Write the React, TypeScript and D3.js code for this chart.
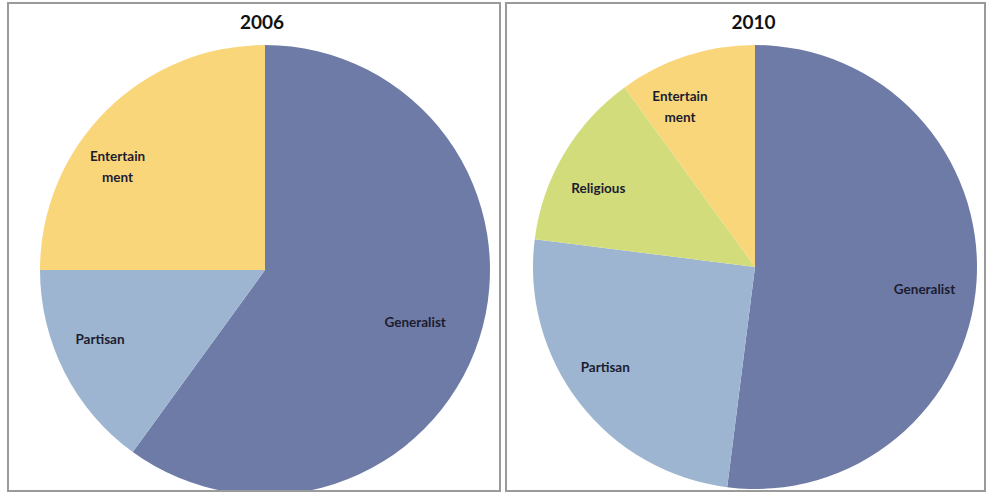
import React from "react";
import * as d3 from "d3";

const categories2006 = ["Generalist", "Partisan", "Entertainment"];
const values2006 = [60, 15, 25];
const categories2010 = ["Generalist", "Partisan", "Religious", "Entertainment"];
const values2010 = [52, 25, 13, 10];
const titles = ["2006", "2010"];

const colors: Record<string, string> = {
  Generalist: "#6E7BA6",
  Partisan: "#9DB5D0",
  Entertainment: "#FAD67B",
  Religious: "#D3DC7B",
};

// label lines per category
const labelLines: Record<string, string[]> = {
  Generalist: ["Generalist"],
  Partisan: ["Partisan"],
  Entertainment: ["Entertain", "ment"],
  Religious: ["Religious"],
};

// label placement (angle in degrees clockwise from top, radius fraction) — Excel best-fit style
const labelPlacement2006: Record<string, [number, number]> = {
  Generalist: [109, 0.706],
  Partisan: [247.3, 0.795],
  Entertainment: [305, 0.8],
};
const labelPlacement2010: Record<string, [number, number]> = {
  Generalist: [97.4, 0.77],
  Partisan: [236.4, 0.81],
  Religious: [296.7, 0.79],
  Entertainment: [335, 0.8],
};

const W = 989;
const H = 493;

type PanelProps = {
  x0: number;
  x1: number;
  cx: number;
  cy: number;
  r: number;
  title: string;
  cats: string[];
  vals: number[];
  placement: Record<string, [number, number]>;
  clipId: string;
};

function Panel({ x0, x1, cx, cy, r, title, cats, vals, placement, clipId }: PanelProps) {
  const data = cats.map((c, i) => ({ c, v: vals[i] }));
  const pie = d3.pie<{ c: string; v: number }>().value((d) => d.v).sort(null);
  const arcs = pie(data);
  const arc = d3.arc<d3.PieArcDatum<{ c: string; v: number }>>().innerRadius(0).outerRadius(r);
  const top = 3;
  const bottom = 491;
  return (
    <g>
      <defs>
        <clipPath id={clipId}>
          <rect x={x0} y={top} width={x1 - x0} height={bottom - top} />
        </clipPath>
      </defs>
      <rect x={x0} y={top} width={x1 - x0} height={bottom - top} fill="#fff" />
      <g clipPath={`url(#${clipId})`}>
        <g transform={`translate(${cx},${cy})`}>
          {arcs.map((a) => (
            <path key={a.data.c} d={arc(a) || ""} fill={colors[a.data.c]} stroke="none" />
          ))}
          {arcs.map((a) => {
            const [deg, frac] = placement[a.data.c];
            const ang = (deg * Math.PI) / 180;
            const lx = Math.sin(ang) * r * frac;
            const ly = -Math.cos(ang) * r * frac;
            const lines = labelLines[a.data.c];
            const lh = 21;
            const startY = ly - ((lines.length - 1) * lh) / 2;
            return (
              <text
                key={"l" + a.data.c}
                x={lx}
                y={startY}
                textAnchor="middle"
                dominantBaseline="central"
                fontFamily="Lato, 'Open Sans', sans-serif"
                fontWeight="bold"
                fontSize={13.5}
                fill="#1c1c30"
              >
                {lines.map((t, i) => (
                  <tspan key={i} x={lx} dy={i === 0 ? 0 : lh}>
                    {t}
                  </tspan>
                ))}
              </text>
            );
          })}
        </g>
      </g>
      <rect
        x={x0}
        y={top}
        width={x1 - x0}
        height={bottom - top}
        fill="none"
        stroke="#9a9a9a"
        strokeWidth={2}
      />
      <text
        x={(x0 + x1) / 2 + 8}
        y={29}
        textAnchor="middle"
        fontFamily="Lato, 'Open Sans', sans-serif"
        fontWeight="bold"
        fontSize={19}
        fill="#111"
      >
        {title}
      </text>
    </g>
  );
}

export default function App() {
  return (
    <div style={{ position: "absolute", left: 0, top: 0, width: W, height: H, background: "#fff" }}>
      <svg width={W} height={H} style={{ display: "block" }}>
        <rect x={0} y={0} width={W} height={H} fill="#fff" />
        <Panel
          x0={8}
          x1={500}
          cx={265}
          cy={270}
          r={225}
          title={titles[0]}
          cats={categories2006}
          vals={values2006}
          placement={labelPlacement2006}
          clipId="c1"
        />
        <Panel
          x0={506}
          x1={985}
          cx={755}
          cy={267}
          r={222}
          title={titles[1]}
          cats={categories2010}
          vals={values2010}
          placement={labelPlacement2010}
          clipId="c2"
        />
      </svg>
    </div>
  );
}
